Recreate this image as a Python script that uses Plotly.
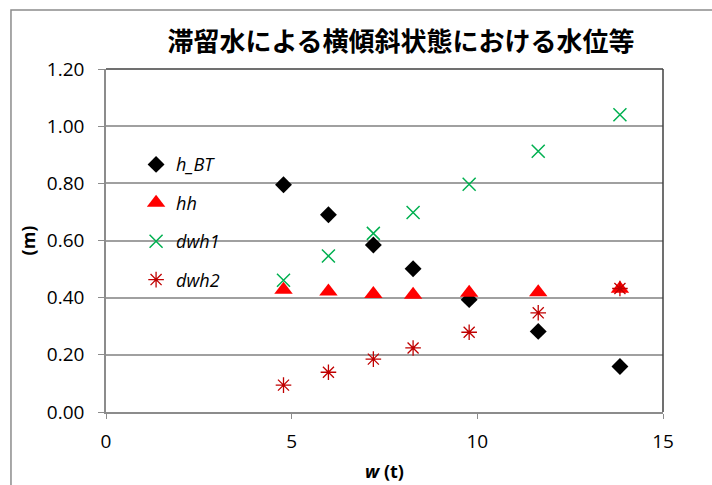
import plotly.graph_objects as go

# Cargo weight (t) and the water-level quantities at each loading step
w_t = [4.78, 5.99, 7.20, 8.27, 9.78, 11.64, 13.84]
h_bt = [0.795, 0.690, 0.584, 0.501, 0.393, 0.282, 0.159]
hh = [0.428, 0.422, 0.413, 0.410, 0.417, 0.419, 0.431]
dwh1 = [0.461, 0.546, 0.625, 0.698, 0.797, 0.912, 1.040]
dwh2 = [0.094, 0.139, 0.185, 0.224, 0.279, 0.347, 0.432]

y_ticks = [0.0, 0.2, 0.4, 0.6, 0.8, 1.0, 1.2]
y_tick_text = ["0.00", "0.20", "0.40", "0.60", "0.80", "1.00", "1.20"]
x_ticks = [0, 5, 10, 15]

series = [
    ("h_BT", h_bt, dict(symbol="diamond", size=13, color="#000000")),
    ("hh", hh, dict(symbol="triangle-up", size=16, color="#FF0000")),
    ("dwh1", dwh1, dict(symbol="x-thin-open", size=13, color="#00B050",
                        line=dict(color="#00B050", width=1.5))),
    ("dwh2", dwh2, dict(symbol="asterisk-open", size=13, color="#C00000",
                        line=dict(color="#C00000", width=1.3))),
]

fig = go.Figure()
for i, (name, vals, marker) in enumerate(series):
    fig.add_trace(go.Scatter(
        x=w_t, y=vals, mode="markers", name=name,
        marker=marker, legendgroup=f"g{i}",
    ))

fig.update_layout(
    width=712, height=485,
    margin=dict(l=106, r=49, t=69, b=73),
    paper_bgcolor="white", plot_bgcolor="white",
    font=dict(family="Open Sans, Liberation Sans, sans-serif", size=19, color="#000000"),
    title=dict(
        text="<b>滞留水による横傾斜状態における水位等</b>",
        font=dict(family="Noto Sans CJK JP", size=26, color="#000000"),
        x=401 / 712, xanchor="center", xref="container",
        y=1 - 42 / 485, yanchor="middle", yref="container",
    ),
    showlegend=True,
    legend=dict(
        x=0.054, y=0.775, xanchor="left", yanchor="top",
        bgcolor="rgba(0,0,0,0)", borderwidth=0,
        font=dict(family="Open Sans, sans-serif", size=18, style="italic"),
        tracegroupgap=12, itemwidth=30,
    ),
    xaxis=dict(
        range=[0, 15], tickvals=x_ticks, showgrid=False, zeroline=False,
        showline=True, linecolor="#8c8c8c", linewidth=1.5, automargin=False,
        ticks="outside", ticklen=5, tickcolor="#8c8c8c", ticklabelstandoff=6,
        title=dict(text="<b><i>w</i> (t)</b>", font=dict(size=18), standoff=13),
    ),
    yaxis=dict(
        range=[0, 1.2], tickvals=y_ticks, ticktext=y_tick_text,
        showgrid=True, gridcolor="#a0a0a0", gridwidth=1.5, zeroline=False,
        showline=True, linecolor="#8c8c8c", linewidth=1.5, automargin=False,
        ticks="outside", ticklen=6, tickcolor="#8c8c8c", ticklabelstandoff=10,
        title=dict(text="<b>(m)</b>", font=dict(size=18), standoff=7),
    ),
    shapes=[
        # outer chart frame
        dict(type="rect", xref="paper", yref="paper",
             x0=-0.1706, x1=1.3, y0=-0.4, y1=1.1718,
             line=dict(color="#8c8c8c", width=1.5), fillcolor="rgba(0,0,0,0)",
             layer="below"),
        # top and right edges of the plot area
        dict(type="line", xref="paper", yref="paper", x0=0, x1=1, y0=1, y1=1,
             line=dict(color="#404040", width=1.5)),
        dict(type="line", xref="paper", yref="paper", x0=1, x1=1, y0=0, y1=1,
             line=dict(color="#404040", width=1.5)),
    ],
)

fig.write_html("out.html")
